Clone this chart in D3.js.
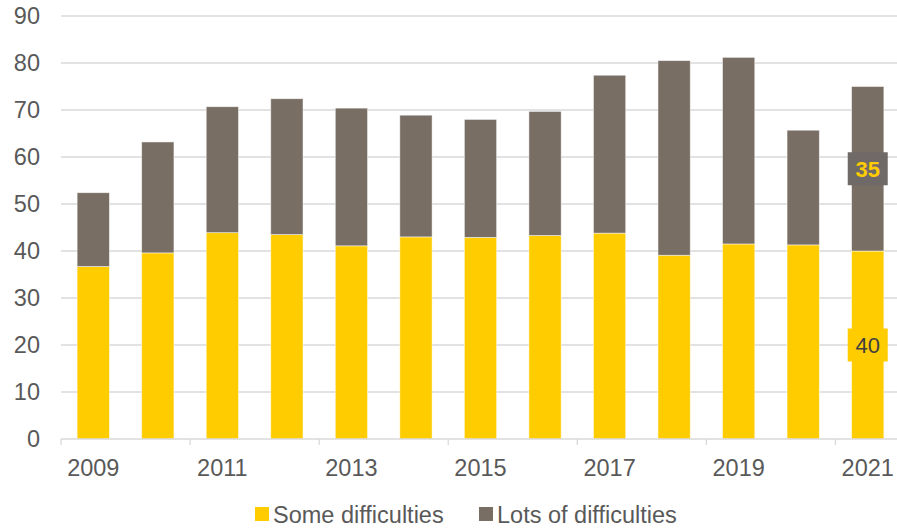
<!DOCTYPE html>
<html>
<head>
<meta charset="utf-8">
<script src="https://cdn.jsdelivr.net/npm/d3@7/dist/d3.min.js"></script>
<style>
  html, body { margin: 0; padding: 0; background: #fff; }
  svg { display: block; font-family: "Liberation Sans", Arial, sans-serif; }
</style>
</head>
<body>
<svg id="chart" width="897" height="528"></svg>
<script>
// Share of respondents reporting difficulties, by year
const years = ["2009","2010","2011","2012","2013","2014","2015","2016","2017","2018","2019","2020","2021"];
const someDifficulties = [36.7, 39.6, 43.9, 43.5, 41.1, 43.0, 42.9, 43.3, 43.8, 39.1, 41.5, 41.3, 40];
const lotsOfDifficulties = [15.7, 23.6, 26.8, 28.9, 29.3, 25.9, 25.1, 26.4, 33.6, 41.4, 39.7, 24.4, 35];
const yTicks = [0, 10, 20, 30, 40, 50, 60, 70, 80, 90];
const xLabels = ["2009","2011","2013","2015","2017","2019","2021"];
const seriesNames = ["Some difficulties", "Lots of difficulties"];
const seriesColors = ["#FFCC00", "#786E64"];

const svg = d3.select("#chart");
const plotLeft = 61, plotRight = 900, plotTop = 16, plotBottom = 439;
const textColor = "#595959";
const gridColor = "#D9D9D9";
const fontSize = 23.5;

const x = d3.scaleBand().domain(years).range([plotLeft, plotRight]).paddingInner(0.5).paddingOuter(0.25);
const y = d3.scaleLinear().domain([0, 90]).range([plotBottom, plotTop]);

// gridlines
svg.append("g").selectAll("line").data(yTicks.filter(d => d > 0)).join("line")
  .attr("x1", plotLeft).attr("x2", plotRight)
  .attr("y1", d => y(d)).attr("y2", d => y(d))
  .attr("stroke", gridColor).attr("stroke-width", 1.3);

// stacked bars
const rows = years.map((yr, i) => ({ year: yr, some: someDifficulties[i], lots: lotsOfDifficulties[i] }));
const stack = d3.stack().keys(["some", "lots"])(rows);

svg.append("g").selectAll("g").data(stack).join("g")
  .attr("fill", (d, i) => seriesColors[i])
  .selectAll("rect").data(d => d).join("rect")
  .attr("x", d => x(d.data.year))
  .attr("width", x.bandwidth())
  .attr("y", d => y(d[1]))
  .attr("height", d => y(d[0]) - y(d[1]))
  .attr("stroke", "#ffffff").attr("stroke-opacity", 0.6).attr("stroke-width", 0.8);

// x axis line and tick marks at category boundaries
svg.append("line").attr("x1", plotLeft).attr("x2", plotRight).attr("y1", plotBottom).attr("y2", plotBottom)
  .attr("stroke", gridColor).attr("stroke-width", 1.3);
const step = x.step();
svg.append("g").selectAll("line").data(xLabels).join("line")
  .attr("x1", d => x(d) - step * 0.25).attr("x2", d => x(d) - step * 0.25)
  .attr("y1", plotBottom).attr("y2", plotBottom + 6)
  .attr("stroke", gridColor).attr("stroke-width", 1.3);

// x axis labels
const xAxis = svg.append("g").attr("transform", `translate(0,${plotBottom})`)
  .call(d3.axisBottom(x).tickValues(xLabels).tickSize(0).tickPadding(20));
xAxis.select(".domain").remove();
xAxis.selectAll("text").attr("fill", textColor).attr("font-size", fontSize).attr("font-family", "Liberation Sans, Arial, sans-serif");

// y axis labels
const yAxis = svg.append("g").attr("transform", `translate(${plotLeft},0)`)
  .call(d3.axisLeft(y).tickValues(yTicks).tickSize(0).tickPadding(21));
yAxis.select(".domain").remove();
yAxis.selectAll("text").attr("fill", textColor).attr("font-size", fontSize).attr("font-family", "Liberation Sans, Arial, sans-serif");

// value labels on the last bar
const last = rows.length - 1;
const lastStack = [stack[0][last], stack[1][last]];
const labelStyles = [
  { box: "#FFCC00", text: "#404040", weight: "normal", value: someDifficulties[last] },
  { box: "#6F6A67", text: "#FFCC00", weight: "bold", value: lotsOfDifficulties[last] }
];
const cx = x(years[last]) + x.bandwidth() / 2;
lastStack.forEach((seg, i) => {
  const cy = (y(seg[0]) + y(seg[1])) / 2;
  const st = labelStyles[i];
  svg.append("rect").attr("x", cx - 20).attr("y", cy - 16.5).attr("width", 40).attr("height", 33).attr("fill", st.box);
  svg.append("text").attr("x", cx).attr("y", cy).attr("dy", "0.36em")
    .attr("text-anchor", "middle").attr("font-size", 22).attr("font-weight", st.weight)
    .attr("fill", st.text).text(d3.format("d")(st.value));
});

// legend
const legendItems = [{ x: 255 }, { x: 479 }];
const legend = svg.append("g");
seriesNames.forEach((name, i) => {
  const gx = legendItems[i].x;
  legend.append("rect").attr("x", gx).attr("y", 507).attr("width", 14).attr("height", 14).attr("fill", seriesColors[i]);
  legend.append("text").attr("x", gx + 18).attr("y", 515).attr("dy", "0.36em")
    .attr("font-size", fontSize).attr("fill", textColor).text(name);
});
</script>
</body>
</html>
